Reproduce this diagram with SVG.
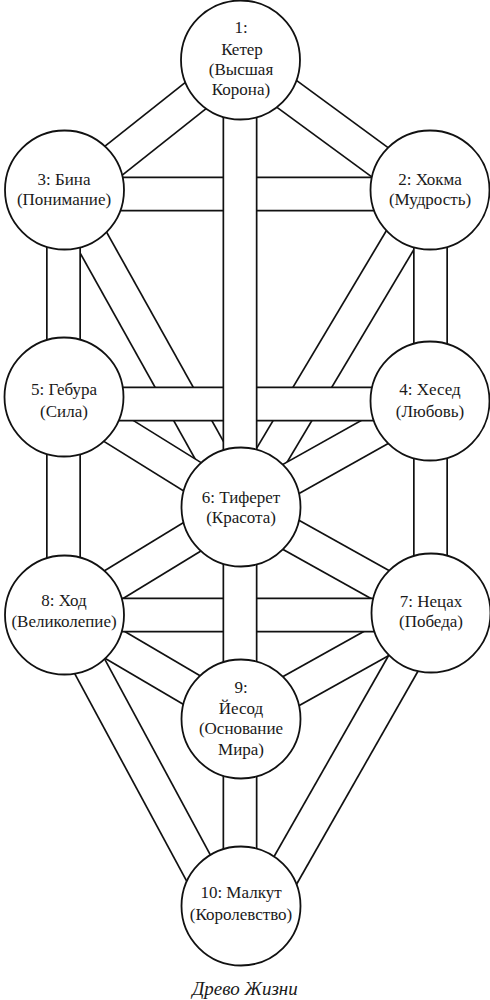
<svg xmlns="http://www.w3.org/2000/svg" width="490" height="1000" viewBox="0 0 490 1000">
<style>
.o{stroke:#111;stroke-width:35;stroke-linecap:butt;fill:none}
.i{stroke:#fff;stroke-width:31.6;stroke-linecap:butt;fill:none}
.n{fill:#fff;stroke:#111;stroke-width:1.8}
.t{font-size:17px;fill:#1a1a1a;text-anchor:middle}
.c{font-size:19px;font-style:italic;fill:#1a1a1a;text-anchor:middle}
</style>
<rect width="490" height="1000" fill="#fff"/>
<g id="connectors">
<g id="p1-2"><path class="o" d="M240.5 60L430 199"/><path class="i" d="M240.5 60L430 199"/></g>
<g id="p1-3"><path class="o" d="M240.5 60L64 200"/><path class="i" d="M240.5 60L64 200"/></g>
<g id="p2-6"><path class="o" d="M430 190L241 507"/><path class="i" d="M430 190L241 507"/></g>
<g id="p3-6"><path class="o" d="M64 190L241 507"/><path class="i" d="M64 190L241 507"/></g>
<g id="p4-6"><path class="o" d="M430 401L241 507"/><path class="i" d="M430 401L241 507"/></g>
<g id="p5-6"><path class="o" d="M64 397L241 507"/><path class="i" d="M64 397L241 507"/></g>
<g id="p6-7"><path class="o" d="M241 507L431 613"/><path class="i" d="M241 507L431 613"/></g>
<g id="p6-8"><path class="o" d="M241 507L64 615"/><path class="i" d="M241 507L64 615"/></g>
<g id="p7-9"><path class="o" d="M431 613L241 719"/><path class="i" d="M431 613L241 719"/></g>
<g id="p8-9"><path class="o" d="M64 615L241 719"/><path class="i" d="M64 615L241 719"/></g>
<g id="p8-10"><path class="o" d="M62 615L219 906"/><path class="i" d="M62 615L219 906"/></g>
<g id="p7-10"><path class="o" d="M432 613L265 906"/><path class="i" d="M432 613L265 906"/></g>
<g id="p2-3"><path class="o" d="M64 194H430"/><path class="i" d="M64 194H430"/></g>
<g id="p4-5"><path class="o" d="M64 404H430"/><path class="i" d="M64 404H430"/></g>
<g id="p7-8"><path class="o" d="M64 615H431"/><path class="i" d="M64 615H431"/></g>
<g id="p1-6"><path class="o" d="M240 60V507"/><path class="i" d="M240 60V507"/></g>
<g id="p6-9"><path class="o" d="M240 507V719"/><path class="i" d="M240 507V719"/></g>
<g id="p9-10"><path class="o" d="M240 719V906"/><path class="i" d="M240 719V906"/></g>
<g id="p3-5"><path class="o" d="M63.5 190V397"/><path class="i" d="M63.5 190V397"/></g>
<g id="p5-8"><path class="o" d="M63.5 397V615"/><path class="i" d="M63.5 397V615"/></g>
<g id="p2-4"><path class="o" d="M430.5 190V401"/><path class="i" d="M430.5 190V401"/></g>
<g id="p4-7"><path class="o" d="M430.5 401V613"/><path class="i" d="M430.5 401V613"/></g>
</g>
<g font-family="'Liberation Serif', 'DejaVu Serif', serif">
<g id="n1"><circle class="n" cx="240.5" cy="60" r="59.5"/>
<text class="t" x="241" y="33">1:</text><text class="t" x="242" y="55">Кетер</text><text class="t" x="241" y="75">(Высшая</text><text class="t" x="241" y="95">Корона)</text></g>
<g id="n3"><circle class="n" cx="64.5" cy="190" r="59.5"/>
<text class="t" x="64" y="185">3: Бина</text><text class="t" x="64" y="205">(Понимание)</text></g>
<g id="n2"><circle class="n" cx="430" cy="190" r="59.5"/>
<text class="t" x="430" y="185">2: Хокма</text><text class="t" x="430" y="205">(Мудрость)</text></g>
<g id="n5"><circle class="n" cx="64" cy="397" r="59.5"/>
<text class="t" x="64" y="395">5: Гебура</text><text class="t" x="64" y="417">(Сила)</text></g>
<g id="n4"><circle class="n" cx="430" cy="401" r="59.5"/>
<text class="t" x="430" y="395">4: Хесед</text><text class="t" x="430" y="417">(Любовь)</text></g>
<g id="n6"><circle class="n" cx="241" cy="507" r="59.5"/>
<text class="t" x="241" y="503">6: Тиферет</text><text class="t" x="241" y="523">(Красота)</text></g>
<g id="n8"><circle class="n" cx="64.5" cy="615" r="59.5"/>
<text class="t" x="64" y="606">8: Ход</text><text class="t" x="64" y="627">(Великолепие)</text></g>
<g id="n7"><circle class="n" cx="431" cy="613" r="59.5"/>
<text class="t" x="431" y="607">7: Нецах</text><text class="t" x="431" y="627">(Победа)</text></g>
<g id="n9"><circle class="n" cx="241" cy="719" r="59.5"/>
<text class="t" x="241" y="693">9:</text><text class="t" x="241" y="714">Йесод</text><text class="t" x="241" y="734">(Основание</text><text class="t" x="241" y="755">Мира)</text></g>
<g id="n10"><circle class="n" cx="241" cy="906" r="59.5"/>
<text class="t" x="241" y="898">10: Малкут</text><text class="t" x="241" y="920">(Королевство)</text></g>
<text class="c" x="245" y="995">Древо Жизни</text>
</g>
</svg>
